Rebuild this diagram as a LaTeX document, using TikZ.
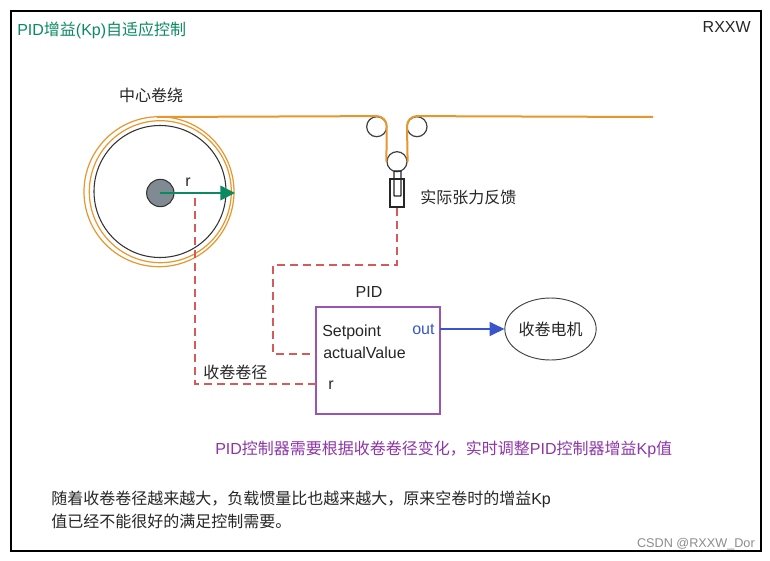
\documentclass[tikz,border=0pt]{standalone}
\usepackage{fontspec}
\setmainfont{Liberation Sans}
\newfontfamily\cjk{Noto Sans CJK SC}
\usetikzlibrary{arrows.meta,shapes.geometric}
\definecolor{ora}{HTML}{E8962E}
\definecolor{grn}{HTML}{0B8A62}
\definecolor{redd}{HTML}{D65A5A}
\definecolor{purp}{HTML}{9A55B0}
\definecolor{purt}{HTML}{8E35A8}
\definecolor{blu}{HTML}{3A55CC}
\definecolor{txt}{HTML}{262626}
\definecolor{hubc}{HTML}{808A92}
\tikzset{
  x=0.75pt,y=-0.75pt,
  lbl/.style={inner sep=0pt,font=\fontsize{12pt}{14.4pt}\selectfont,text=txt},
  lleft/.style={lbl,anchor=west},
  roller/.style={circle,draw=black!75,line width=0.9pt,fill=white,minimum size=15pt,inner sep=0pt},
  wrap/.style={circle,draw=ora,line width=0.9pt,inner sep=0pt},
  belt/.style={draw=ora,line width=1.5pt},
  fb/.style={draw=redd,line width=1.3pt,dash pattern=on 6pt off 3.75pt},
}
\begin{document}
\begin{tikzpicture}
\useasboundingbox (0,0) rectangle (770,560);
\fill[white] (0,0) rectangle (770,560);
\draw[black,line width=1.5pt] (11,11) rectangle (761,551);
% texts
\node[lleft,text=grn] (title) at (17,30) {PID\cjk 增益\rmfamily(Kp)\cjk 自适应控制};
\node[lbl,anchor=east] (rx) at (751,27) {RXXW};
\node[lbl] (cw) at (151,95) {\cjk 中心卷绕};
\node[lleft] (fbk) at (420,197) {\cjk 实际张力反馈};
% reel
\node[wrap,minimum size=112.5pt] (w1) at (159,191.7) {};
\node[wrap,minimum size=106.5pt] (w2) at (160.3,191.7) {};
\node[circle,draw=black!80,line width=0.8pt,minimum size=99pt,inner sep=0pt] (reel) at (160,191.5) {};
\node[circle,draw=black!80,line width=0.8pt,fill=hubc,minimum size=20.5pt,inner sep=0pt] (hub) at (160.3,193) {};
\node[lbl] (rr) at (188,182) {r};
\coordinate (tip) at (235,193);
\coordinate (tap) at (195,193);
\draw[grn,line width=1.1pt,-{Triangle[length=11pt,width=11pt]}] (hub.center) -- (tip);
% belt
\coordinate (b0) at (157,117);
\coordinate (b1) at (653,117);
\node[roller] (rl) at (376.7,126.7) {};
\node[roller] (rm) at (417,126.7) {};
\node[roller] (rb) at (397,161.7) {};
\draw[belt] (b0) -- (rl.north) arc[start angle=90,end angle=0,radius=7.5pt] -- (rb.west);
\draw[belt] (b1) -- (rm.north) arc[start angle=90,end angle=180,radius=7.5pt] -- (rb.east);
% sensor
\node[draw=black!85,line width=1pt,minimum width=10.5pt,minimum height=21pt,inner sep=0pt] (sens) at (397,193) {};
\node[draw=black!85,line width=1pt,minimum width=5.25pt,minimum height=18.75pt,inner sep=0pt,rounded corners=0.5pt] (rod) at (397.5,183.5) {};
% PID
\node[draw=purp,line width=1.2pt,fill=white,minimum width=93pt,minimum height=80.25pt,inner sep=0pt] (pid) at (378,360.5) {};
\node[lbl] (pidt) at (369,292) {PID};
\node[lleft] (sp) at (322,332) {Setpoint};
\node[lleft] (av) at (323,353) {actualValue};
\node[lleft,text=blu] (out) at (412,329) {out};
\node[lleft] (pr) at (328,385) {r};
\node[lleft] (jj) at (203,372) {\cjk 收卷卷径};
\node[ellipse,draw=black!75,line width=0.7pt,minimum width=68.5pt,minimum height=46.5pt,inner sep=0pt] (mot) at (550.5,329) {\cjk\fontsize{12pt}{14.4pt}\selectfont\color{txt}收卷电机};
\coordinate (pa) at (316,354);
\coordinate (pb) at (316,384);
\coordinate (pc) at (440,329);
\draw[blu,line width=1.2pt,-{Triangle[length=11pt,width=10.5pt]}] (pc) -- (mot.west);
\draw[fb] (sens.south) -- (397,265) -- (273,265) -- (273,354) -- (pa);
\draw[fb] (pb) -- (195,384) -- (tap);
% bottom text
\node[lleft,text=purt] (note) at (215,449) {PID\cjk 控制器需要根据收卷卷径变化，实时调整\rmfamily PID\cjk 控制器增益\rmfamily Kp\cjk 值};
\node[lleft] (d1) at (51,499) {\cjk 随着收卷卷径越来越大，负载惯量比也越来越大，原来空卷时的增益\rmfamily Kp};
\node[lleft] (d2) at (51,521) {\cjk 值已经不能很好的满足控制需要。};
\node[inner sep=0pt,anchor=east,text=black!45,font=\fontsize{9.5pt}{11pt}\selectfont] (wm) at (755,544) {CSDN @RXXW\_Dor};
\end{tikzpicture}
\end{document}
